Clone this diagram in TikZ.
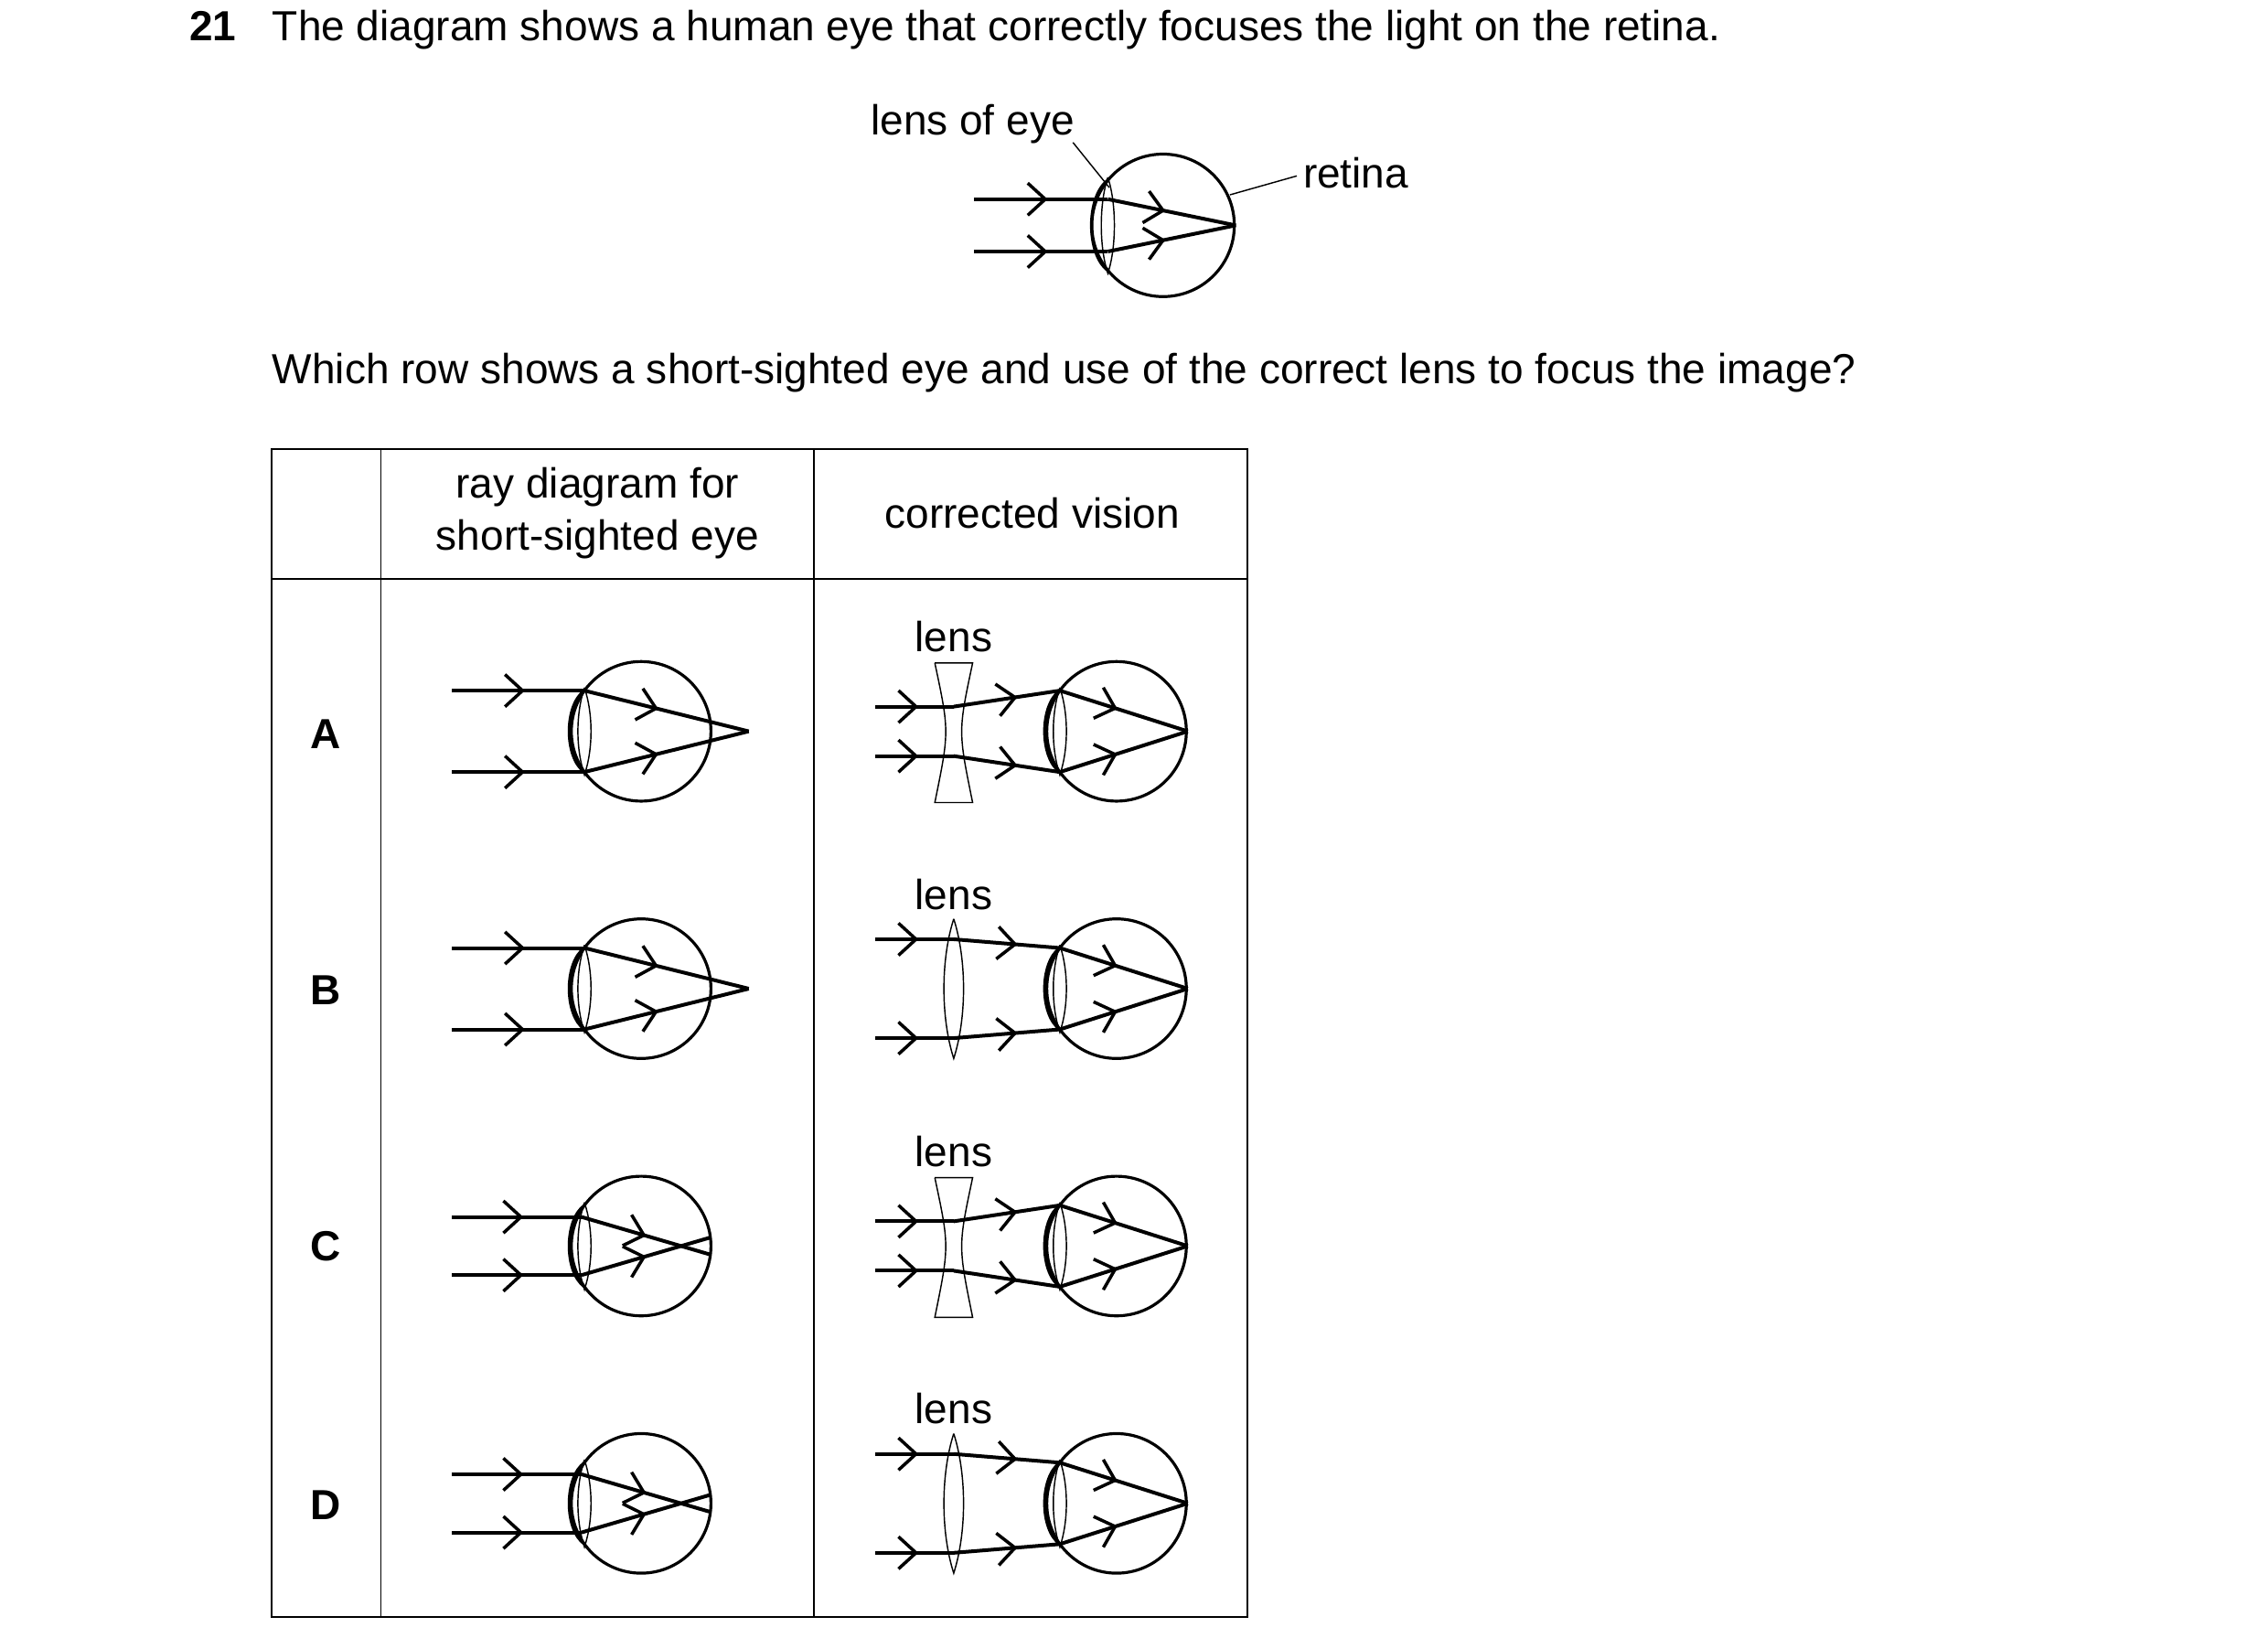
\documentclass[tikz,border=0pt]{standalone}
\usepackage{fontspec}
\setmainfont{Liberation Sans}
\usetikzlibrary{arrows.meta,decorations.markings}
\tikzset{
  ray/.style={line width=1.25pt},
  rim/.style={line width=1pt},
  thin/.style={line width=0.45pt},
  mid/.style={postaction={decorate},decoration={markings,mark=at position #1 with {\arrow{Straight Barb[length=6pt,width=11pt,line width=1.1pt]}}}},
  mid/.default=0.55,
  txt/.style={font=\fontsize{14.4}{17}\selectfont, inner sep=0pt},
  lab/.style={font=\fontsize{14.4}{17}\selectfont\bfseries, inner sep=0pt},
}
\newcommand\myeye[2]{%
  \draw[rim] (#1,#2) circle (48);
  \draw[rim] (#1-39,#2-28) .. controls (#1-53,#2-18) and (#1-53,#2+18) .. (#1-39,#2+28);
  \draw[thin] (#1-39,#2-30) .. controls (#1-33,#2-12) and (#1-33,#2+12) .. (#1-39,#2+30)
              .. controls (#1-45,#2+12) and (#1-45,#2-12) .. (#1-39,#2-30);
}
\newcommand\concave[2]{%
  \draw[thin] (#1-13,#2-47) -- (#1+13,#2-47) .. controls (#1+3,#2) .. (#1+13,#2+49)
     -- (#1-13,#2+49) .. controls (#1-3,#2) .. (#1-13,#2-47);
}
\newcommand\convex[2]{%
  \draw[thin] (#1,#2-48) .. controls (#1+9,#2-20) and (#1+9,#2+20) .. (#1,#2+48)
     .. controls (#1-9,#2+20) and (#1-9,#2-20) .. (#1,#2-48);
}
\newcommand\longfocus[2]{%
  \myeye{#1}{#2}
  \coordinate (fa) at (#1+74,#2);
  \draw[ray,mid] (#1-130,#2-28) -- (#1-39,#2-28);
  \draw[ray,mid] (#1-130,#2+28) -- (#1-39,#2+28);
  \draw[ray,mid=0.45] (#1-39,#2-28) -- (fa);
  \draw[ray,mid=0.45] (#1-39,#2+28) -- (fa);
}
\newcommand\shortfocus[2]{%
  \myeye{#1}{#2}
  \draw[ray,mid] (#1-130,#2-20) -- (#1-41,#2-20);
  \draw[ray,mid] (#1-130,#2+20) -- (#1-41,#2+20);
  \draw[ray,mid=0.5] (#1-41,#2-20) -- (#1+48,#2+6);
  \draw[ray,mid=0.5] (#1-41,#2+20) -- (#1+48,#2-6);
}
\newcommand\corrected[3]{%
  \csname #3\endcsname{656}{#1}
  \myeye{768}{#1}
  \draw[ray,mid] (602,#1-#2) -- (656,#1-#2);
  \draw[ray,mid] (602,#1+#2) -- (656,#1+#2);
  \draw[ray,mid=0.6] (656,#1-#2) -- (729,#1-28);
  \draw[ray,mid=0.6] (656,#1+#2) -- (729,#1+28);
  \draw[ray,mid=0.45] (729,#1-28) -- (817,#1);
  \draw[ray,mid=0.45] (729,#1+28) -- (817,#1);
  \node[txt] (l#1) at (656,#1-65) {lens};
}
\begin{document}
\begin{tikzpicture}[x=0.4975pt,y=-0.4975pt]
\useasboundingbox (0,0) rectangle (1560,1134);
\node[lab,anchor=base west] (num) at (130,28) {21};
\node[txt,anchor=base west] (q1) at (187,28) {The diagram shows a human eye that correctly focuses the light on the retina.};
\draw[rim] (800,155) circle (49);
\draw[rim] (762,124) .. controls (747,135) and (747,175) .. (762,186);
\draw[thin] (762,122) .. controls (768,140) and (768,170) .. (762,188) .. controls (756,170) and (756,140) .. (762,122);
\draw[ray,mid] (670,137) -- (762,137);
\draw[ray,mid] (670,173) -- (762,173);
\draw[ray,mid=0.45] (762,137) -- (850,155);
\draw[ray,mid=0.45] (762,173) -- (850,155);
\node[txt] (lenseye) at (669,85) {lens of eye};
\coordinate (lp) at (763,129);
\draw[thin] (738,98) -- (lp);
\node[txt,anchor=west] (ret) at (896,119) {retina};
\coordinate (rp) at (846,134);
\draw[thin] (ret.west) ++(-4,2) coordinate (rq) -- (rp);
\node[txt,anchor=base west] (q2) at (187,264) {Which row shows a short-sighted eye and use of the correct lens to focus the image?};
\draw[thin,line width=0.6pt] (187,309) rectangle (858,1112);
\draw[thin,line width=0.6pt] (187,398) -- (858,398);
\draw[thin,line width=0.6pt] (262,309) -- (262,1112);
\draw[thin,line width=0.6pt] (560,309) -- (560,1112);
\node[txt,align=center] (h1) at (411,353) {ray diagram for\\[1pt]short-sighted eye};
\node[txt] (h2) at (710,353) {corrected vision};
\node[lab] (A) at (224,505) {A};
\node[lab] (B) at (224,681) {B};
\node[lab] (C) at (224,857) {C};
\node[lab] (D) at (224,1035) {D};
\longfocus{441}{503}
\longfocus{441}{680}
\shortfocus{441}{857}
\shortfocus{441}{1034}
\corrected{503}{17}{concave}
\corrected{680}{34}{convex}
\corrected{857}{17}{concave}
\corrected{1034}{34}{convex}
\end{tikzpicture}
\end{document}
